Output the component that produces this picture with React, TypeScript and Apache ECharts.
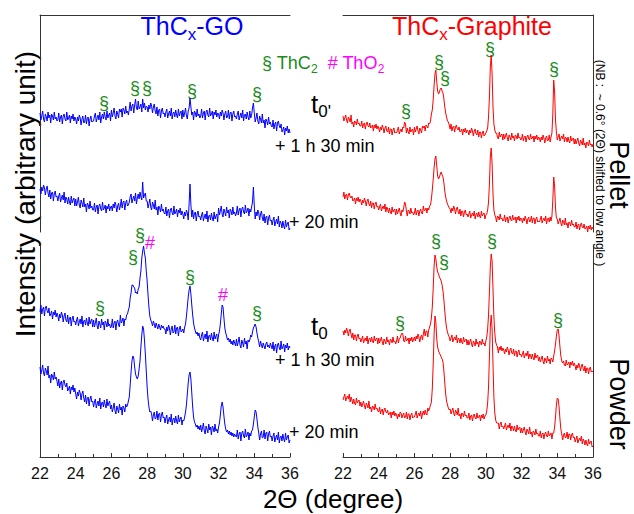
import React, { useEffect, useRef } from "react";
import * as echarts from "echarts";

// ---------- sampling grid (2θ, degrees) ----------
const THETA_START = 22;
const THETA_STEP = 0.05;
const X_MIN = 22;
const X_MAX = 36;

// ---------- ThCx-GO (blue), one row = 1 degree ----------
// pellet, t0' + 1 h 30 min
const goPelletLong = [
  119,112,116,121,113,110,118,115,111,120,114,117,109,118,116,112,120,113,115,111,
  112,119,110,115,117,108,116,118,113,111,120,112,114,117,109,116,113,118,111,115,
  113,108,115,111,117,114,107,113,116,109,110,117,108,114,115,106,113,116,110,111,
  111,116,119,110,114,117,112,120,109,115,118,113,120,115,112,121,114,117,119,111,
  122,115,119,124,116,113,121,118,114,123,120,123,115,124,122,118,126,119,121,117,
  123,130,121,126,128,119,127,133,124,122,131,123,125,128,120,133,124,129,122,126,
  125,120,127,123,129,126,119,125,128,121,118,125,116,122,123,114,121,124,118,119,
  115,120,123,114,118,121,116,124,113,119,120,115,122,117,114,123,116,119,121,113,
  122,115,119,124,116,113,121,124,134,125,117,120,112,121,119,115,123,116,118,114,
  116,123,114,119,121,112,120,122,117,115,124,116,118,121,113,120,117,122,115,119,
  118,113,120,116,122,119,112,118,121,114,115,122,113,119,120,111,118,121,115,116,
  113,118,121,112,116,119,114,122,111,117,118,113,120,115,112,121,114,117,124,129,
  119,110,114,119,111,108,116,113,109,118,109,112,104,113,111,107,115,108,110,106,
  105,112,103,108,110,101,109,111,106,104,108,100,102,105,97,104,101,106,99,103,
  99,
];
// pellet, + 20 min
const goPelletShort = [
  43,38,45,41,47,44,37,43,46,39,35,42,33,39,40,31,38,41,35,36,
  31,36,39,30,34,37,32,40,29,35,33,28,35,30,27,36,29,32,34,26,
  33,26,30,35,27,24,32,29,25,34,25,28,20,29,27,23,31,24,26,22,
  22,29,20,25,27,18,26,28,23,21,30,22,24,27,19,26,23,28,21,25,
  26,21,28,24,30,27,20,26,29,22,26,33,24,30,31,22,29,32,26,27,
  30,35,38,29,33,36,31,39,28,34,38,33,40,35,32,50,34,37,39,31,
  31,24,28,33,25,22,30,27,23,32,22,25,17,26,24,20,28,21,23,19,
  18,25,16,21,23,14,22,24,19,17,26,18,20,23,15,22,19,24,17,21,
  18,13,20,16,22,19,12,28,48,27,15,22,13,19,20,11,18,21,15,16,
  12,17,20,11,15,18,13,21,10,16,17,12,19,14,11,20,13,16,18,10,
  24,17,21,26,18,15,23,20,16,25,19,22,14,23,21,17,25,18,20,16,
  19,26,17,22,24,15,23,25,20,18,27,19,21,24,16,23,20,25,30,45,
  26,13,20,16,22,19,12,18,21,14,11,18,9,15,16,7,14,17,11,12,
  7,12,15,6,10,13,8,16,5,11,9,4,11,6,3,12,5,8,10,2,
  4,
];
// powder, t0 + 1 h 30 min
const goPowderLong = [
  145,152,143,148,150,141,149,151,146,144,149,141,143,146,138,145,142,147,140,144,
  141,136,143,139,145,142,135,141,144,137,135,142,133,139,140,131,138,141,135,136,
  132,137,140,131,135,138,133,141,130,136,137,132,139,134,131,140,133,136,138,130,
  137,130,134,139,131,128,136,133,129,138,132,135,127,136,134,130,138,131,133,129,
  131,138,129,134,136,127,135,137,132,130,142,134,136,139,131,138,137,142,143,147,
  150,159,164,172,172,170,169,164,165,163,168,170,179,186,199,206,211,204,199,186,
  176,162,150,141,137,135,131,136,133,129,134,131,128,133,130,127,132,129,131,128,
  128,123,130,126,132,129,122,128,131,124,125,132,123,129,130,121,128,131,125,126,
  128,124,130,133,141,150,160,167,171,163,152,142,134,129,126,123,125,121,124,119,
  117,122,125,116,120,123,118,126,115,121,122,117,124,119,116,125,118,121,123,115,
  122,126,133,143,152,150,139,129,124,121,117,119,115,118,113,116,112,117,114,111,
  118,111,115,120,112,109,117,114,110,119,113,116,108,117,115,117,122,120,125,129,
  131,133,130,124,119,115,110,116,112,109,114,111,108,113,115,110,112,109,114,111,
  108,115,106,111,113,104,112,114,109,107,116,108,110,113,105,112,109,114,107,111,
  109,
];
// powder, + 20 min
const goPowderShort = [
  90,83,87,92,84,81,89,86,82,91,79,82,74,83,81,77,85,78,80,76,
  71,78,69,74,76,67,75,77,72,70,74,66,68,71,63,70,67,72,65,69,
  63,58,65,61,67,64,57,63,66,59,55,62,53,59,60,51,58,61,55,56,
  50,55,58,49,53,56,51,59,48,54,55,50,57,52,49,58,51,54,56,48,
  52,45,49,54,46,43,51,48,44,53,47,50,42,51,49,45,53,50,52,56,
  60,72,85,96,101,99,90,83,80,78,81,88,96,110,122,131,128,117,103,86,
  70,58,50,45,46,43,36,42,45,38,39,46,37,43,44,35,42,45,39,40,
  34,39,42,33,37,40,35,43,32,38,39,34,41,36,33,42,35,38,40,32,
  37,36,40,45,52,63,74,82,85,78,64,50,40,35,33,30,32,28,31,27,
  32,25,29,34,26,23,31,28,24,33,27,30,22,31,29,25,33,26,28,24,
  30,34,42,51,55,50,41,33,28,25,27,23,26,22,25,21,24,20,23,21,
  20,27,18,23,25,16,24,26,21,19,28,20,22,25,17,24,21,26,27,33,
  40,47,45,38,30,24,17,23,26,19,20,27,18,24,25,16,23,26,20,21,
  16,21,24,15,19,22,17,25,14,20,21,16,23,18,15,24,17,20,22,14,
  17,
];

// ---------- ThCx-Graphite (red) ----------
// pellet, t0' + 1 h 30 min
const grPelletLong = [
  116,111,114,117,112,109,115,113,110,117,108,110,105,111,110,107,113,108,109,106,
  106,111,104,108,109,103,108,110,106,105,109,104,105,107,101,107,104,108,103,106,
  104,100,105,102,107,104,99,104,106,101,100,105,98,103,103,97,102,104,99,100,
  99,102,105,98,101,103,100,105,104,110,108,99,104,100,98,105,100,102,103,97,
  105,100,103,106,101,98,104,102,99,106,104,106,101,107,106,104,109,108,111,118,
  122,132,146,158,162,150,141,138,140,143,144,141,139,133,125,119,115,111,110,107,
  103,108,101,105,106,100,105,107,103,102,105,100,101,103,97,103,100,104,99,102,
  101,97,102,99,104,101,96,101,103,98,97,102,95,100,100,94,99,101,96,97,
  99,101,104,115,135,165,177,158,125,108,102,99,99,95,93,100,95,97,98,92,
  98,93,96,99,94,91,97,95,92,99,94,96,91,97,96,93,99,94,95,92,
  93,98,91,95,96,90,95,97,93,92,98,93,94,96,90,96,93,97,92,95,
  94,90,95,92,97,94,89,94,96,91,92,97,90,95,99,118,152,140,112,100,
  92,95,98,91,94,96,93,98,90,95,94,90,95,91,89,96,91,93,94,88,
  93,88,91,94,89,86,92,90,87,94,87,89,84,90,89,86,92,87,88,85,
  88,
];
// pellet, + 20 min
const grPelletShort = [
  35,40,33,37,38,32,37,39,35,34,36,31,32,34,28,34,31,35,30,33,
  31,27,32,29,34,31,26,31,33,28,26,31,24,29,29,23,28,30,25,26,
  22,25,28,21,24,26,23,28,20,25,23,19,24,20,18,25,20,22,23,17,
  23,18,21,24,19,16,22,20,24,30,28,21,16,22,21,18,24,19,20,17,
  19,24,17,21,22,16,21,23,19,18,26,21,22,24,19,24,22,26,27,33,
  42,52,64,73,76,66,56,53,55,58,60,57,55,49,41,35,31,28,26,24,
  23,19,24,21,26,23,18,23,25,20,18,23,16,21,21,15,20,22,17,18,
  15,18,21,14,17,19,16,21,13,18,19,15,20,16,14,21,16,18,19,13,
  17,18,22,30,48,75,84,68,38,22,17,15,10,16,15,12,18,13,14,11,
  12,17,10,14,15,9,14,16,12,11,17,12,13,15,9,15,12,16,11,14,
  13,9,14,11,16,13,8,13,15,10,11,16,9,14,14,8,13,15,10,11,
  10,13,16,9,12,14,11,16,8,13,14,10,15,11,16,32,55,46,24,14,
  13,8,11,14,9,6,12,10,7,14,7,9,4,10,9,6,12,7,8,5,
  5,10,3,7,8,2,7,9,5,4,8,3,4,6,0,6,3,7,2,5,
  3,
];
// powder, t0 + 1 h 30 min
const grPowderLong = [
  126,122,127,124,129,126,121,126,128,123,119,124,117,122,122,116,121,123,118,119,
  115,118,121,114,117,119,116,121,113,118,119,115,120,116,114,121,116,118,119,113,
  119,114,117,120,115,112,118,116,113,120,115,117,112,118,117,114,120,115,116,113,
  116,121,114,118,119,122,124,123,116,115,121,116,117,119,113,119,116,120,115,118,
  120,116,121,118,123,120,115,120,122,117,123,128,121,126,126,120,127,130,133,139,
  150,168,190,202,198,190,185,183,180,178,176,172,166,157,146,136,129,125,122,120,
  116,119,122,115,118,120,117,122,114,119,118,114,119,115,113,120,115,117,118,112,
  117,112,115,118,113,110,116,114,111,118,113,115,110,116,115,112,118,113,114,111,
  116,120,128,142,165,190,203,196,168,140,124,115,112,110,104,110,107,111,106,109,
  107,103,108,105,110,107,102,107,109,104,103,108,101,106,106,100,105,107,102,103,
  100,103,106,99,102,104,101,106,98,103,102,98,103,99,97,104,99,101,102,96,
  100,95,98,101,96,93,99,97,94,101,96,98,93,99,98,95,101,106,113,121,
  127,128,121,110,101,96,94,96,92,91,97,92,93,95,89,95,92,96,91,94,
  91,87,92,89,94,91,86,91,93,88,86,91,84,89,89,83,88,90,85,86,
  85,
];
// powder, + 20 min
const grPowderShort = [
  57,60,63,56,59,61,58,63,55,60,57,53,58,54,52,59,54,56,57,51,
  55,50,53,56,51,48,54,52,49,56,48,50,45,51,50,47,53,48,49,46,
  45,50,43,47,48,42,47,49,45,44,47,42,43,45,39,45,42,46,41,44,
  42,38,43,40,45,44,39,42,44,39,40,45,38,43,43,37,42,44,39,40,
  40,43,46,39,42,44,41,46,38,43,46,42,47,43,42,49,46,49,52,55,
  68,92,122,141,135,118,110,106,104,102,100,98,95,86,74,63,56,52,49,47,
  48,43,46,49,44,41,47,45,42,49,41,43,38,44,43,40,46,41,42,39,
  39,44,37,41,42,36,41,43,39,38,44,39,40,42,36,42,39,43,38,41,
  42,46,54,70,100,130,142,128,92,60,44,37,34,34,34,28,33,35,30,31,
  28,31,34,27,30,32,29,34,26,31,30,26,31,27,25,32,27,29,30,24,
  29,24,27,30,25,22,28,26,23,30,23,25,20,26,25,22,28,23,24,21,
  21,26,19,23,24,18,23,25,21,20,26,21,22,24,18,24,24,30,40,52,
  59,58,50,38,28,23,17,22,24,19,20,25,18,23,23,17,22,24,19,20,
  15,18,21,14,17,19,16,21,13,18,16,12,17,13,11,18,13,15,16,10,
  11,
];

// ---------- peak markers (label positions in px) ----------
type Mark = { t: string; x: number; y: number; c: "g" | "m" };
const peakMarks: Mark[] = [
  // GO pellet
  { t: "§", x: 104, y: 103, c: "g" },
  { t: "§", x: 135, y: 88, c: "g" },
  { t: "§", x: 147, y: 88, c: "g" },
  { t: "§", x: 192, y: 91, c: "g" },
  { t: "§", x: 257, y: 94, c: "g" },
  // GO powder
  { t: "§", x: 100, y: 308, c: "g" },
  { t: "§", x: 133, y: 257, c: "g" },
  { t: "§", x: 140, y: 235, c: "g" },
  { t: "#", x: 150, y: 243, c: "m" },
  { t: "§", x: 190, y: 277, c: "g" },
  { t: "#", x: 223, y: 295, c: "m" },
  { t: "§", x: 257, y: 313, c: "g" },
  // Graphite pellet
  { t: "§", x: 406, y: 111, c: "g" },
  { t: "§", x: 439, y: 62, c: "g" },
  { t: "§", x: 445, y: 78, c: "g" },
  { t: "§", x: 490, y: 49, c: "g" },
  { t: "§", x: 554, y: 69, c: "g" },
  // Graphite powder
  { t: "§", x: 436, y: 241, c: "g" },
  { t: "§", x: 444, y: 262, c: "g" },
  { t: "§", x: 492, y: 241, c: "g" },
  { t: "§", x: 400, y: 323, c: "g" },
  { t: "§", x: 558, y: 320, c: "g" },
];

const BLUE = "#0000ff";
const RED = "#ff0000";
const GREEN = "#1a8c1a";
const MAGENTA = "#ff00ff";
const AXIS = "#333333";
const FONT = '"Liberation Sans", Arial, Helvetica, sans-serif';

let measureCtx: CanvasRenderingContext2D | null = null;
function textWidth(t: string, size: number): number {
  if (!measureCtx) measureCtx = document.createElement("canvas").getContext("2d");
  if (!measureCtx) return t.length * size * 0.55;
  measureCtx.font = `${size}px ${FONT}`;
  return measureCtx.measureText(t).width;
}

type Piece = { t: string; size: number; color: string; sub?: boolean };
function composite(pieces: Piece[], x: number, baseline: number, align: "left" | "center", mainSize: number) {
  const widths = pieces.map((p) => textWidth(p.t, p.size));
  const total = widths.reduce((a, b) => a + b, 0);
  let cx = align === "center" ? x - total / 2 : x;
  const out: any[] = [];
  pieces.forEach((p, i) => {
    const bl = baseline + (p.sub ? mainSize * 0.22 : 0);
    out.push({
      type: "text",
      x: cx,
      y: bl - p.size * 0.35,
      silent: true,
      style: {
        text: p.t,
        fontSize: p.size,
        fontFamily: FONT,
        fill: p.color,
        align: "left",
        verticalAlign: "middle",
      },
    });
    cx += widths[i];
  });
  return out;
}

function plainText(t: string, x: number, y: number, size: number, color: string, rotation = 0, align = "center") {
  return {
    type: "text",
    x,
    y,
    rotation,
    silent: true,
    style: { text: t, fontSize: size, fontFamily: FONT, fill: color, align, verticalAlign: "middle" },
  };
}

function toPairs(vals: number[]) {
  return vals.map((v, i) => [Math.round((THETA_START + i * THETA_STEP) * 100) / 100, v]);
}

function buildOption(): any {
  const grids = [
    { left: 40, top: 15, width: 250, height: 217 },
    { left: 40, top: 245, width: 250, height: 212 },
    { left: 343, top: 15, width: 250, height: 217 },
    { left: 343, top: 245, width: 250, height: 212 },
  ];
  const xAxis = grids.map((_, i) => {
    const bottom = i === 1 || i === 3;
    return {
      type: "value",
      gridIndex: i,
      min: X_MIN,
      max: X_MAX,
      interval: 2,
      position: bottom ? "bottom" : "top",
      axisLine: { show: true, onZero: false, lineStyle: { color: AXIS, width: 1 } },
      axisTick: { show: bottom, inside: true, length: 4, lineStyle: { color: AXIS } },
      minorTick: { show: bottom, splitNumber: 2, length: 3, lineStyle: { color: AXIS } },
      axisLabel: { show: bottom, fontSize: 16, color: "#111", fontFamily: FONT, margin: 8 },
      splitLine: { show: false },
      minorSplitLine: { show: false },
    };
  });
  const yAxis = grids.map((g, i) => ({
    type: "value",
    gridIndex: i,
    min: 0,
    max: g.height,
    position: i < 2 ? "left" : "right",
    axisLine: { show: true, onZero: false, lineStyle: { color: AXIS, width: 1 } },
    axisTick: { show: false },
    axisLabel: { show: false },
    splitLine: { show: false },
  }));
  const traces: [number[], number, string][] = [
    [goPelletLong, 0, BLUE],
    [goPelletShort, 0, BLUE],
    [goPowderLong, 1, BLUE],
    [goPowderShort, 1, BLUE],
    [grPelletLong, 2, RED],
    [grPelletShort, 2, RED],
    [grPowderLong, 3, RED],
    [grPowderShort, 3, RED],
  ];
  const series = traces.map(([vals, gi, color]) => ({
    type: "line",
    xAxisIndex: gi,
    yAxisIndex: gi,
    data: toPairs(vals),
    showSymbol: false,
    symbol: "none",
    lineStyle: { color, width: 1 },
    itemStyle: { color },
    silent: true,
  }));

  const graphics: any[] = [];
  graphics.push(
    ...composite(
      [
        { t: "ThC", size: 25, color: BLUE },
        { t: "x", size: 17, color: BLUE, sub: true },
        { t: "-GO", size: 25, color: BLUE },
      ],
      192, 35, "center", 25
    )
  );
  graphics.push(
    ...composite(
      [
        { t: "ThC", size: 25, color: RED },
        { t: "x", size: 17, color: RED, sub: true },
        { t: "-Graphite", size: 25, color: RED },
      ],
      472, 35, "center", 25
    )
  );
  graphics.push(
    ...composite(
      [
        { t: "§ ThC", size: 18, color: GREEN },
        { t: "2", size: 12, color: GREEN, sub: true },
        { t: "  # ThO", size: 18, color: MAGENTA },
        { t: "2", size: 12, color: MAGENTA, sub: true },
      ],
      262, 69, "left", 18
    )
  );
  graphics.push(
    ...composite(
      [
        { t: "t", size: 26, color: "#000" },
        { t: "0'", size: 17, color: "#000", sub: true },
      ],
      311, 113, "left", 20
    )
  );
  graphics.push(
    ...composite(
      [
        { t: "t", size: 26, color: "#000" },
        { t: "0", size: 17, color: "#000", sub: true },
      ],
      311, 335, "left", 20
    )
  );
  graphics.push(plainText("+ 1 h 30 min", 275, 146, 18, "#000", 0, "left"));
  graphics.push(plainText("+ 20 min", 289, 222, 18, "#000", 0, "left"));
  graphics.push(plainText("+ 1 h 30 min", 275, 360, 18, "#000", 0, "left"));
  graphics.push(plainText("+ 20 min", 289, 432, 18, "#000", 0, "left"));
  graphics.push(plainText("Intensity (arbitrary unit)", 25, 194, 28, "#000", Math.PI / 2));
  graphics.push(plainText("2Θ (degree)", 333, 499, 26, "#000"));
  graphics.push(plainText("Pellet", 619, 175, 27, "#000", -Math.PI / 2));
  graphics.push(plainText("Powder", 619, 404, 27, "#000", -Math.PI / 2));
  graphics.push(plainText("(NB :  ~ 0.6° (2Θ) shifted to low angle )", 600, 163, 12, "#000", -Math.PI / 2));
  peakMarks.forEach((m) => {
    graphics.push(plainText(m.t, m.x, m.y, 18, m.c === "g" ? GREEN : MAGENTA));
  });

  return {
    animation: false,
    backgroundColor: "#ffffff",
    grid: grids,
    xAxis,
    yAxis,
    series,
    graphic: { elements: graphics },
  };
}

export default function App() {
  const ref = useRef<HTMLDivElement>(null);
  useEffect(() => {
    if (!ref.current) return;
    const chart = echarts.init(ref.current, null, { renderer: "svg" });
    chart.setOption(buildOption());
    return () => chart.dispose();
  }, []);
  return (
    <div
      ref={ref}
      style={{ position: "fixed", left: 0, top: 0, width: 634, height: 514, background: "#fff" }}
    />
  );
}
